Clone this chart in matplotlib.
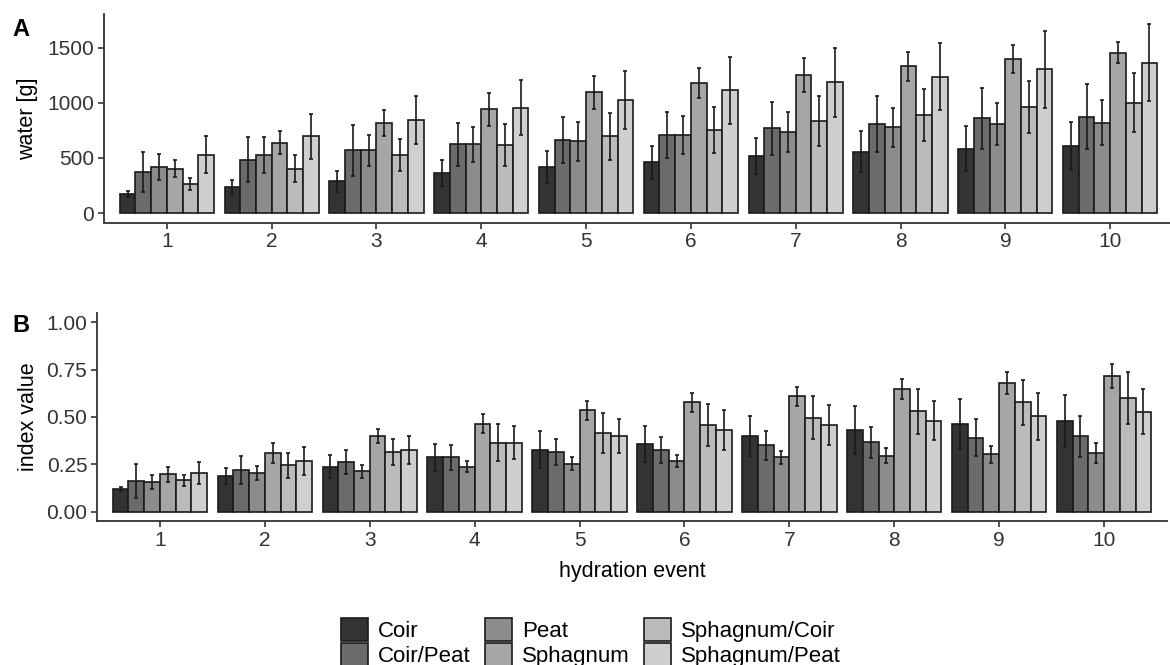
import numpy as np
import matplotlib
matplotlib.use("Agg")
import matplotlib.pyplot as plt
from matplotlib.patches import Patch

plt.rcParams["font.family"] = ["Liberation Sans", "DejaVu Sans"]

events = [1, 2, 3, 4, 5, 6, 7, 8, 9, 10]
substrates = ["Coir", "Coir/Peat", "Peat", "Sphagnum", "Sphagnum/Coir", "Sphagnum/Peat"]
fills = ["#333333", "#6b6b6b", "#8c8c8c", "#a6a6a6", "#bbbbbb", "#cfcfcf"]

# panel A: water [g], mean per substrate and hydration event
water_coir = [171, 236, 290, 362, 416, 459, 516, 554, 584, 612]
water_coir_peat = [374, 485, 569, 623, 665, 708, 767, 806, 860, 875]
water_peat = [419, 527, 569, 623, 653, 708, 737, 779, 806, 821]
water_sphagnum = [404, 638, 818, 943, 1095, 1182, 1250, 1331, 1400, 1455]
water_sph_coir = [266, 404, 527, 614, 696, 753, 836, 890, 959, 1000]
water_sph_peat = [530, 695, 848, 956, 1029, 1113, 1185, 1236, 1304, 1362]

water_coir_sd = [25, 60, 95, 115, 145, 150, 162, 186, 207, 211]
water_coir_peat_sd = [180, 205, 230, 197, 210, 213, 241, 255, 275, 294]
water_peat_sd = [120, 160, 138, 158, 177, 171, 180, 176, 189, 205]
water_sphagnum_sd = [80, 104, 118, 149, 150, 135, 156, 129, 125, 93]
water_sph_coir_sd = [55, 125, 143, 190, 213, 211, 226, 237, 236, 269]
water_sph_peat_sd = [170, 207, 218, 252, 263, 303, 313, 305, 351, 350]

# panel B: index value
idx_coir = [0.12, 0.188, 0.237, 0.286, 0.326, 0.358, 0.40, 0.432, 0.463, 0.479]
idx_coir_peat = [0.161, 0.219, 0.261, 0.286, 0.316, 0.326, 0.351, 0.367, 0.391, 0.398]
idx_peat = [0.156, 0.204, 0.212, 0.237, 0.253, 0.268, 0.286, 0.295, 0.302, 0.309]
idx_sphagnum = [0.196, 0.309, 0.40, 0.465, 0.535, 0.577, 0.609, 0.649, 0.682, 0.716]
idx_sph_coir = [0.165, 0.244, 0.316, 0.365, 0.414, 0.456, 0.496, 0.53, 0.579, 0.60]
idx_sph_peat = [0.204, 0.267, 0.326, 0.365, 0.40, 0.432, 0.456, 0.481, 0.504, 0.528]

idx_coir_sd = [0.01, 0.04, 0.06, 0.072, 0.098, 0.095, 0.107, 0.128, 0.134, 0.139]
idx_coir_peat_sd = [0.09, 0.074, 0.065, 0.064, 0.069, 0.067, 0.077, 0.082, 0.096, 0.108]
idx_peat_sd = [0.037, 0.035, 0.033, 0.029, 0.035, 0.032, 0.035, 0.039, 0.046, 0.051]
idx_sphagnum_sd = [0.042, 0.051, 0.038, 0.049, 0.049, 0.051, 0.049, 0.054, 0.058, 0.063]
idx_sph_coir_sd = [0.03, 0.066, 0.068, 0.10, 0.107, 0.112, 0.114, 0.118, 0.119, 0.136]
idx_sph_peat_sd = [0.059, 0.075, 0.075, 0.086, 0.092, 0.105, 0.105, 0.103, 0.123, 0.12]

water = [water_coir, water_coir_peat, water_peat, water_sphagnum, water_sph_coir, water_sph_peat]
water_sd = [water_coir_sd, water_coir_peat_sd, water_peat_sd, water_sphagnum_sd,
            water_sph_coir_sd, water_sph_peat_sd]
index = [idx_coir, idx_coir_peat, idx_peat, idx_sphagnum, idx_sph_coir, idx_sph_peat]
index_sd = [idx_coir_sd, idx_coir_peat_sd, idx_peat_sd, idx_sphagnum_sd,
            idx_sph_coir_sd, idx_sph_peat_sd]

TICK_FS = 15
TITLE_FS = 15.5
LEG_FS = 16
AXCOL = "#333333"


def draw_panel(ax, means, sds, yticks, ylim, fmt):
    x = np.arange(1, len(events) + 1)
    n = len(means)
    w = 0.9 / n
    for i in range(n):
        pos = x - 0.45 + w * (i + 0.5)
        ax.bar(pos, means[i], width=w, color=fills[i], edgecolor="#1a1a1a",
               linewidth=1.2, zorder=2)
        ax.errorbar(pos, means[i], yerr=sds[i], fmt="none", ecolor="#1a1a1a",
                    elinewidth=1.2, capsize=1.5, capthick=1.2, zorder=3)
    ax.set_xlim(0.4, 10.6)
    ax.set_ylim(*ylim)
    ax.set_xticks(x)
    ax.set_xticklabels([str(e) for e in events])
    ax.set_yticks(yticks)
    ax.set_yticklabels([fmt.format(t) for t in yticks])
    for s in ["top", "right"]:
        ax.spines[s].set_visible(False)
    for s in ["left", "bottom"]:
        ax.spines[s].set_color(AXCOL)
        ax.spines[s].set_linewidth(1.3)
    ax.tick_params(colors=AXCOL, labelcolor="#333333", labelsize=TICK_FS,
                   length=4, width=1.2, pad=3)


fig = plt.figure(figsize=(11.7, 6.65), dpi=100)

axA = fig.add_axes([104 / 1170, 1 - 222.5 / 665, 1069 / 1170, 208.5 / 665])
draw_panel(axA, water, water_sd, [0, 500, 1000, 1500], (-86, 1806), "{:.0f}")
axA.set_ylabel("water [g]", fontsize=TITLE_FS, labelpad=7)

axB = fig.add_axes([97 / 1170, 1 - 521 / 665, 1070 / 1170, 208 / 665])
draw_panel(axB, index, index_sd, [0, 0.25, 0.5, 0.75, 1.0], (-0.05, 1.05), "{:.2f}")
axB.set_ylabel("index value", fontsize=TITLE_FS, labelpad=5)
axB.set_xlabel("hydration event", fontsize=TITLE_FS, labelpad=8)

fig.text(12 / 1170, 1 - 30 / 665, "A", fontsize=17, fontweight="bold", va="center")
fig.text(12 / 1170, 1 - 325 / 665, "B", fontsize=17, fontweight="bold", va="center")

handles = [Patch(facecolor=c, edgecolor="#1a1a1a", linewidth=1.2) for c in fills]
fig.legend(handles, substrates, loc="upper center", bbox_to_anchor=(591 / 1170, 1 - 607 / 665),
           ncol=3, frameon=False, fontsize=LEG_FS, handlelength=1.22, handleheight=1.2,
           handletextpad=0.45, columnspacing=0.65, labelspacing=0.05, borderpad=0)

fig.savefig("out.png", dpi=100)
